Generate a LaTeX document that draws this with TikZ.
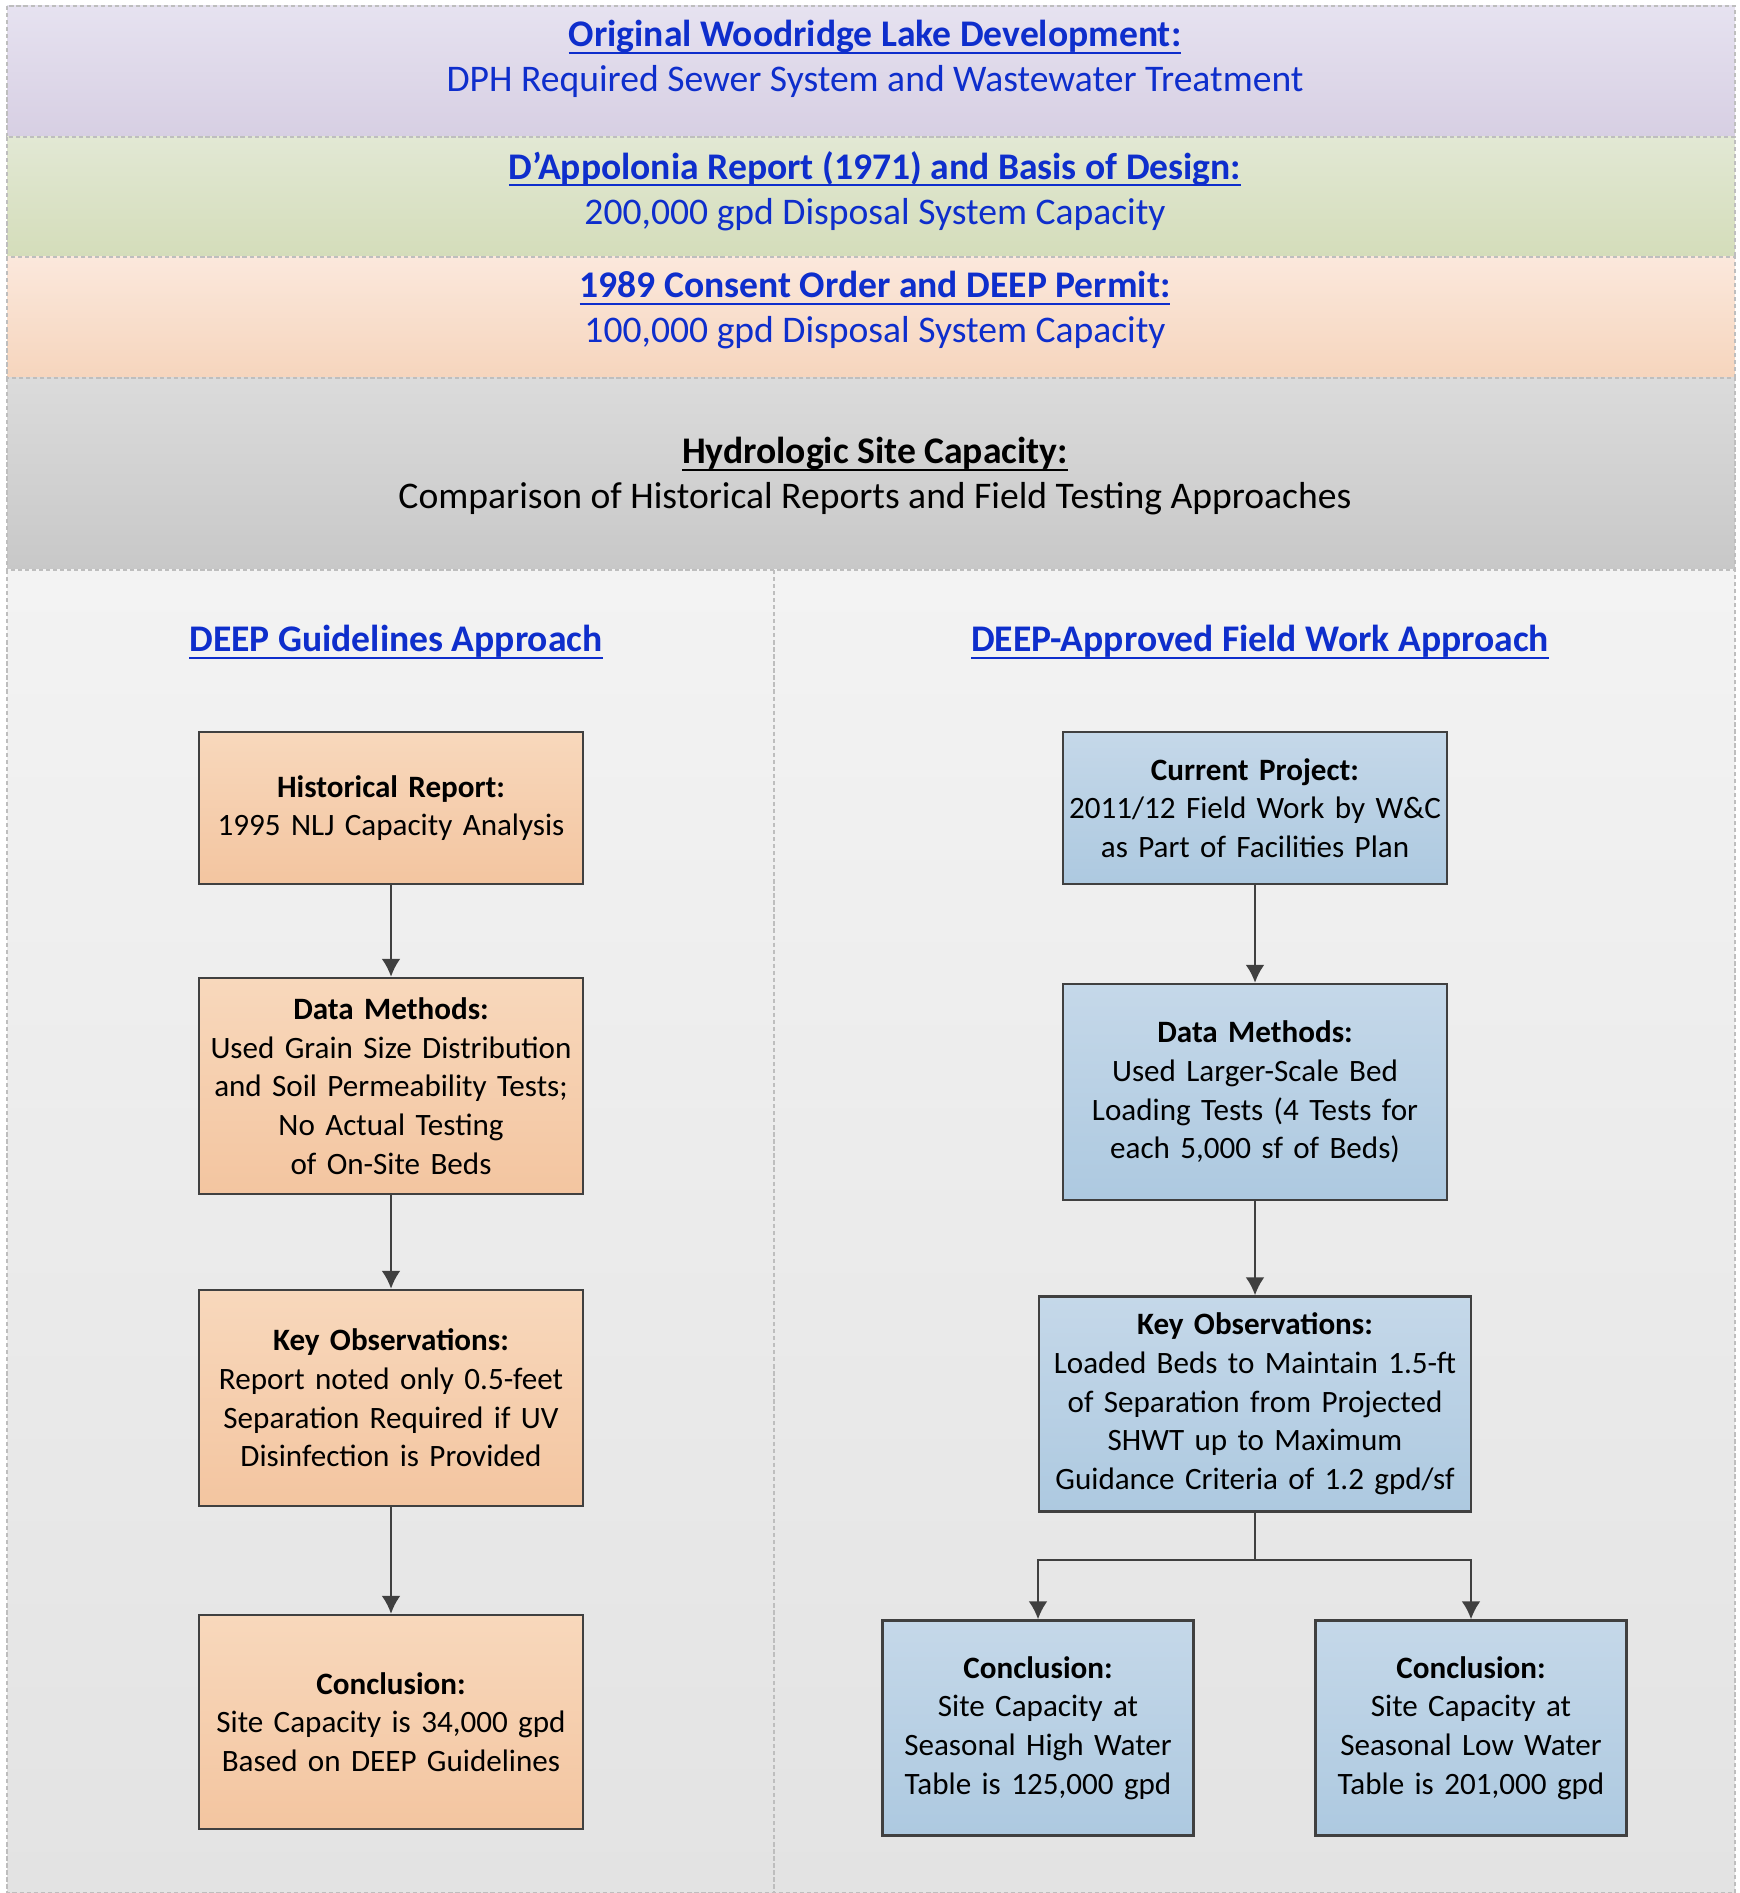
\documentclass[tikz,border=0pt]{standalone}
\usepackage{fontspec}
\setmainfont{Carlito}
\usepackage{tikz}
\usetikzlibrary{positioning}
\usetikzlibrary{arrows.meta}
\definecolor{linkblue}{RGB}{14,46,204}
\definecolor{boxline}{RGB}{64,64,64}
\definecolor{frameline}{RGB}{190,190,190}
\definecolor{lilactop}{RGB}{230,226,240}
\definecolor{lilacbot}{RGB}{215,207,227}
\definecolor{sagetop}{RGB}{226,232,212}
\definecolor{sagebot}{RGB}{212,221,186}
\definecolor{peachtop}{RGB}{251,232,220}
\definecolor{peachbot}{RGB}{246,213,189}
\definecolor{greytop}{RGB}{219,219,219}
\definecolor{greybot}{RGB}{200,200,200}
\definecolor{floortop}{RGB}{243,243,243}
\definecolor{floorbot}{RGB}{227,227,227}
\definecolor{orangetop}{RGB}{248,216,188}
\definecolor{orangebot}{RGB}{243,197,160}
\definecolor{bluetop}{RGB}{197,216,233}
\definecolor{bluebot}{RGB}{173,201,224}
\newcommand{\boxfont}{\fontsize{8.85}{11}\selectfont}
\newcommand{\bandfont}{\fontsize{10.7}{12.7}\selectfont}
% bold heading with a close, heavier underline
\newcommand{\hd}[1]{{\setbox0\hbox{\bfseries #1}\rlap{\rule[-2pt]{\wd0}{0.6pt}}\box0}}
\tikzset{
  bandline/.style={draw=frameline, dash pattern=on 1.2pt off 0.8pt, line width=0.35pt},
  bandtext/.style={align=center, font=\bandfont, text=linkblue},
  stepnode/.style={draw=boxline, line width=0.7pt, align=center, font=\boxfont,
    minimum width=38.4mm, text width=38.4mm, inner sep=0pt},
  oldstep/.style={stepnode, top color=orangetop, bottom color=orangebot},
  newstep/.style={stepnode, top color=bluetop, bottom color=bluebot},
  flow/.style={draw=boxline, line width=0.7pt, -{Latex[length=1.8mm,width=1.9mm]}},
}

\begin{document}
\begin{tikzpicture}[x=0.1mm, y=-0.1mm]
  \useasboundingbox (0,0) rectangle (1739,1893);

  % stacked header bands: {top/bottom/top colour/bottom colour}
  \foreach \ya/\yb/\ca/\cb in {
      6/137/lilactop/lilacbot,
      137/257/sagetop/sagebot,
      257/378/peachtop/peachbot,
      378/570/greytop/greybot,
      570/1893/floortop/floorbot} {
    \path[top color=\ca, bottom color=\cb] (7,\ya) rectangle (1735,\yb);
    \draw[bandline] (7,\ya) rectangle (1735,\yb);
  }
  \draw[bandline] (774,570) -- (774,1893);

  % band texts
  \node[bandtext] (orig) at (875,59) {\hd{Original Woodridge Lake Development:}\\DPH Required Sewer System and Wastewater Treatment};
  \node[bandtext] (dapp) at (875,191) {\hd{D’Appolonia Report (1971) and Basis of Design:}\\200,000 gpd Disposal System Capacity};
  \node[bandtext] (perm) at (875,310) {\hd{1989 Consent Order and DEEP Permit:}\\100,000 gpd Disposal System Capacity};
  \node[bandtext, text=black] (hydro) at (875,476) {\hd{Hydrologic Site Capacity:}\\Comparison of Historical Reports and Field Testing Approaches};

  % column headings
  \node[bandtext] (lefthd) at (396,642) {\hd{DEEP Guidelines Approach}};
  \node[bandtext] (righthd) at (1260,642) {\hd{DEEP-Approved Field Work Approach}};

  % guidelines column
  \node[oldstep, minimum height=15.2mm] (hist) at (391,808) {\textbf{Historical Report:}\\1995 NLJ Capacity Analysis};
  \node[oldstep, minimum height=21.6mm] (meth1) at (391,1086) {\textbf{Data Methods:}\\Used Grain Size Distribution\\and Soil Permeability Tests;\\No Actual Testing\\of On-Site Beds};
  \node[oldstep, minimum height=21.6mm] (obs1) at (391,1398) {\textbf{Key Observations:}\\Report noted only 0.5-feet\\Separation Required if UV\\Disinfection is Provided};
  \node[oldstep, minimum height=21.4mm] (end1) at (391,1722) {\textbf{Conclusion:}\\Site Capacity is 34,000 gpd\\Based on DEEP Guidelines};

  % field work column
  \node[newstep, minimum height=15.2mm] (cur) at (1255,808) {\textbf{Current Project:}\\2011/12 Field Work by W\&C\\as Part of Facilities Plan};
  \node[newstep, minimum height=21.6mm] (meth2) at (1255,1092) {\textbf{Data Methods:}\\Used Larger-Scale Bed\\Loading Tests (4 Tests for\\each 5,000 sf of Beds)};
  \node[newstep, minimum height=21.5mm, minimum width=43.2mm, text width=43.2mm] (obs2) at (1255,1404) {\textbf{Key Observations:}\\Loaded Beds to Maintain 1.5-ft\\of Separation from Projected\\SHWT up to Maximum\\Guidance Criteria of 1.2 gpd/sf};
  \node[newstep, minimum height=21.5mm, minimum width=31.1mm, text width=31.1mm] (end2a) at (1038,1728) {\textbf{Conclusion:}\\Site Capacity at\\Seasonal High Water\\Table is 125,000 gpd};
  \node[newstep, minimum height=21.5mm, minimum width=31.1mm, text width=31.1mm] (end2b) at (1471,1728) {\textbf{Conclusion:}\\Site Capacity at\\Seasonal Low Water\\Table is 201,000 gpd};

  % connectors
  \draw[flow] (hist) -- (meth1);
  \draw[flow] (meth1) -- (obs1);
  \draw[flow] (obs1) -- (end1);
  \draw[flow] (cur) -- (meth2);
  \draw[flow] (meth2) -- (obs2);
  \coordinate (fork) at (1255,1560);
  \draw[flow] (obs2.south) -- (fork) -| (end2a.north);
  \draw[flow] (fork) -| (end2b.north);
\end{tikzpicture}
\end{document}
